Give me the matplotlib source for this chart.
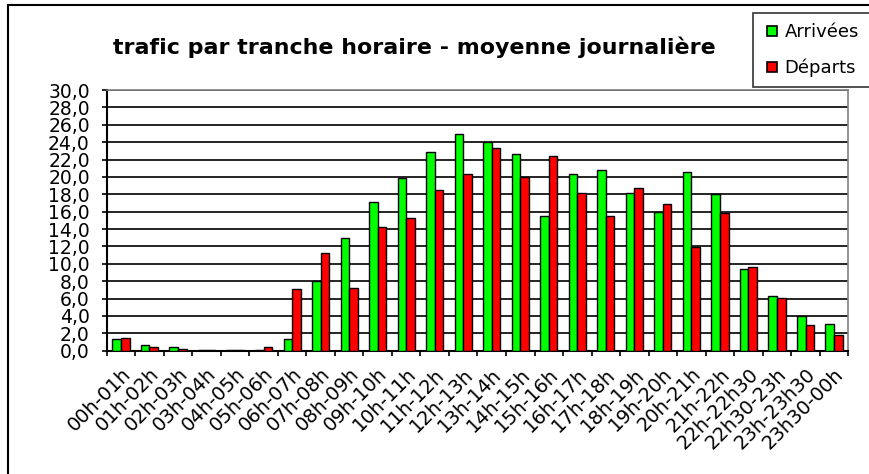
import matplotlib
matplotlib.use("Agg")
import matplotlib.pyplot as plt
from matplotlib.patches import Rectangle
from matplotlib.lines import Line2D
import matplotlib.transforms as mtransforms
import numpy as np

categories = ["00h-01h", "01h-02h", "02h-03h", "03h-04h", "04h-05h", "05h-06h",
              "06h-07h", "07h-08h", "08h-09h", "09h-10h", "10h-11h", "11h-12h",
              "12h-13h", "13h-14h", "14h-15h", "15h-16h", "16h-17h", "17h-18h",
              "18h-19h", "19h-20h", "20h-21h", "21h-22h", "22h-22h30", "22h30-23h",
              "23h-23h30", "23h30-00h"]
arrivees = [1.3, 0.6, 0.4, 0.1, 0.1, 0.1, 1.3, 8.0, 13.0, 17.1, 19.9, 22.9,
            24.9, 24.0, 22.6, 15.5, 20.3, 20.8, 18.2, 16.0, 20.6, 18.0, 9.4, 6.3,
            4.0, 3.1]
departs = [1.5, 0.4, 0.2, 0.1, 0.1, 0.4, 7.1, 11.2, 7.2, 14.2, 15.3, 18.5,
           20.3, 23.3, 20.0, 22.4, 18.2, 15.5, 18.7, 16.9, 11.9, 15.8, 9.6, 6.1,
           2.9, 1.8]
title = "trafic par tranche horaire - moyenne journalière"
series_names = ["Arrivées", "Départs"]
yticks = np.arange(0, 31, 2)

plt.rcParams['font.family'] = ['DejaVu Sans']

W, H = 870, 474
fig = plt.figure(figsize=(W / 100, H / 100), dpi=100)
ax = fig.add_axes([106.7 / W, 1 - 350.7 / H, (848.3 - 106.7) / W, (350.7 - 90) / H])

n = len(categories)
x = np.arange(n)
bw = 0.3
ax.bar(x - bw / 2, arrivees, bw, color="#00FF00", edgecolor="black", linewidth=1.0, zorder=3)
ax.bar(x + bw / 2, departs, bw, color="#FF0000", edgecolor="black", linewidth=1.0, zorder=3)

ax.set_xlim(-0.5, n - 0.5)
ax.set_ylim(0, 30)
ax.set_yticks(yticks)
ax.set_yticklabels([f"{v:.1f}".replace(".", ",") for v in yticks], fontsize=13.5)
ax.yaxis.grid(True, color="black", linewidth=1.2, zorder=0)
ax.set_axisbelow(True)

ax.set_xticks(x)
ax.set_xticklabels(categories, rotation=45, ha="right", va="top",
                   rotation_mode="anchor", fontsize=14)
offset = mtransforms.ScaledTranslation(3 / 100, 0, fig.dpi_scale_trans)
for lbl in ax.get_xticklabels():
    lbl.set_transform(lbl.get_transform() + offset)
ax.tick_params(axis="x", which="major", length=0, pad=10)
ax.set_xticks(np.arange(-0.5, n, 1), minor=True)
ax.tick_params(axis="x", which="minor", length=3.6, width=1.2, direction="out")
ax.tick_params(axis="y", length=3.6, width=1.2, direction="out", pad=8.6)

for s in ["top", "right"]:
    ax.spines[s].set_color("#808080")
    ax.spines[s].set_linewidth(1.2)
for s in ["left", "bottom"]:
    ax.spines[s].set_color("black")
    ax.spines[s].set_linewidth(1.5)

fig.text(414 / W, 1 - 47 / H, title, ha="center", va="center",
         fontsize=15.9, fontweight="bold")

handles = [Line2D([], [], linestyle="none", marker="s", markersize=6.5,
                  markerfacecolor="#00FF00", markeredgecolor="black", markeredgewidth=1.2),
           Line2D([], [], linestyle="none", marker="s", markersize=6.5,
                  markerfacecolor="#FF0000", markeredgecolor="black", markeredgewidth=1.2)]
leg = fig.legend(handles, series_names, loc="upper left",
                 bbox_to_anchor=(753 / W, 1 - 13 / H, 150 / W, 0.0),
                 mode="expand", fontsize=13, frameon=True, fancybox=False,
                 handlelength=1.05, handletextpad=0.15,
                 labelspacing=1.0, borderpad=0.55, borderaxespad=0.0)
leg.get_frame().set_edgecolor("black")
leg.get_frame().set_linewidth(1.2)

fig.add_artist(Rectangle((8 / W, -0.1), 1.2, 1.1 - 5 / H, transform=fig.transFigure,
                         fill=False, edgecolor="black", linewidth=1.5, clip_on=False))

fig.savefig("out.png", dpi=100)
